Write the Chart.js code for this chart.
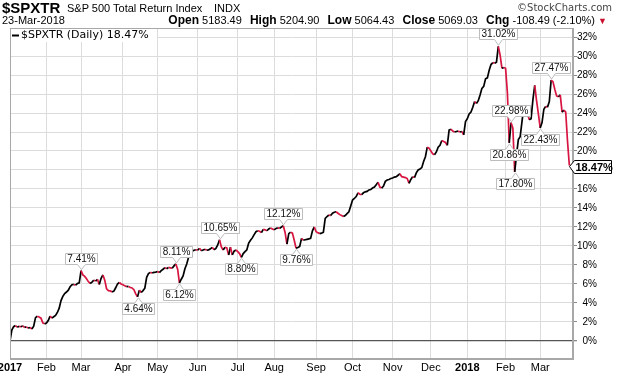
<!DOCTYPE html>
<html>
<head>
<meta charset="utf-8">
<script src="https://cdn.jsdelivr.net/npm/chart.js@4.4.0/dist/chart.umd.min.js"></script>
<style>
  body { margin: 0; background: #fff; width: 618px; height: 376px; overflow: hidden; position: relative; font-family: "Liberation Sans", Arial, sans-serif; }
  #wrap { position: absolute; left: 0; top: 0; width: 618px; height: 376px; }
  .hd { position: absolute; white-space: nowrap; color: #000; font-size: 11px; z-index: 2; }
  .hd b { font-size: 12px; margin-left: 2px; }
</style>
</head>
<body>
<div id="wrap"><canvas id="chart" width="618" height="376"></canvas></div>
<div class="hd" style="left:2px;top:-1px;font-size:15px;font-weight:bold;">$SPXTR</div>
<div class="hd" style="left:67px;top:2px;">S&amp;P 500 Total Return Index</div>
<div class="hd" style="left:214px;top:2px;">INDX</div>
<div class="hd" style="right:6px;top:2px;color:#444;font-family:'DejaVu Sans';font-size:10px;">©StockCharts.com</div>
<div class="hd" style="left:2px;top:14px;">23-Mar-2018</div>
<div class="hd" style="right:11px;top:13px;"><b>Open</b> 5183.49 &nbsp;<b>High</b> 5204.90 &nbsp;<b>Low</b> 5064.43 &nbsp;<b>Close</b> 5069.03 &nbsp;<b>Chg</b> -108.49 (-2.10%) <span style="color:#c8102e;font-size:9px;">▼</span></div>
<script>
document.addEventListener('DOMContentLoaded', () => {
    // trading day index since 3-Jan-2017, cumulative total return in %
    const days = [];
    for (let d = 0; d <= 307; d++) days.push(d);

    const values = [
        0.00, 1.15, 1.50, 1.62, 1.45, 1.55, 1.48, 1.60, 1.42, 1.48,
        1.35, 1.42, 1.26, 1.55, 2.45, 2.60, 2.52, 2.40, 1.90, 1.80,
        1.88, 2.15, 2.62, 2.40, 2.55, 2.68, 3.00, 3.45, 4.25, 4.70,
        5.00, 5.15, 5.35, 5.70, 5.92, 5.95, 5.88, 6.05, 6.12, 7.41,
        6.95, 6.80, 6.55, 6.25, 6.05, 6.20, 6.40, 6.30, 6.48, 5.95,
        6.60, 6.95, 6.40, 5.50, 5.30, 5.28, 5.15, 5.25, 5.60, 6.00,
        6.15, 6.00, 5.92, 5.80, 5.72, 5.75, 5.62, 5.58, 5.40, 4.95,
        4.64, 5.35, 5.10, 5.30, 5.55, 6.70, 7.10, 7.22, 7.15, 7.22,
        7.25, 7.32, 7.20, 7.40, 7.55, 7.72, 7.60, 7.75, 7.70, 7.65,
        7.90, 8.11, 7.55, 6.12, 6.50, 6.85, 7.60, 8.10, 8.80, 9.25,
        9.45, 9.55, 9.60, 9.55, 9.76, 9.50, 9.58, 9.65, 9.55, 9.58,
        9.70, 9.86, 9.60, 9.75, 10.10, 10.65, 9.90, 9.58, 9.86, 9.80,
        9.05, 9.86, 9.05, 9.45, 9.58, 9.40, 9.20, 8.80, 9.20, 9.40,
        9.60, 10.30, 10.60, 10.85, 11.20, 11.50, 11.60, 11.55, 11.40, 11.75,
        11.70, 11.60, 11.80, 11.90, 11.80, 11.70, 11.85, 11.90, 11.85, 12.00,
        12.12, 11.40, 10.20, 11.30, 11.45, 11.35, 10.60, 9.76, 9.85, 9.95,
        10.80, 10.60, 10.65, 10.70, 10.75, 10.80, 11.60, 12.00, 11.50, 11.40,
        11.30, 11.35, 11.45, 12.90, 13.10, 13.26, 13.20, 13.45, 13.55, 13.60,
        13.45, 13.30, 13.20, 13.10, 13.20, 13.40, 13.60, 14.20, 14.84, 15.00,
        15.20, 15.60, 15.45, 15.40, 15.60, 15.70, 15.75, 15.90, 15.95, 16.10,
        16.20, 16.45, 16.70, 16.20, 16.10, 16.30, 16.80, 16.95, 17.00, 17.10,
        17.15, 17.25, 17.30, 17.45, 17.60, 17.30, 17.25, 17.20, 17.10, 16.60,
        17.00, 17.30, 17.20, 17.70, 18.00, 18.10, 18.25, 18.90, 19.40, 20.40,
        20.30, 20.00, 19.70, 19.60, 19.90, 20.40, 20.60, 21.10, 21.00, 20.90,
        20.60, 22.20, 22.30, 22.10, 22.00, 22.05, 22.10, 22.00, 22.05, 21.70,
        23.10, 23.40, 23.90, 24.10, 24.60, 25.20, 25.00, 25.30, 25.90, 26.60,
        26.80, 27.60, 27.70, 28.50, 29.10, 29.30, 29.25, 29.35, 31.02, 30.10,
        28.70, 28.80, 28.70, 26.10, 20.86, 22.98, 22.40, 17.80, 19.60, 21.20,
        21.50, 23.10, 24.60, 24.70, 24.00, 23.30, 23.40, 25.40, 26.90, 25.30,
        23.90, 22.43, 23.00, 24.40, 24.70, 24.60, 25.20, 27.47, 27.30, 26.50,
        25.80, 25.70, 25.90, 24.10, 24.30, 24.10, 21.00, 18.47
    ];

    const monthTicks = [0, 20, 39, 62, 81, 103, 125, 145, 168, 188, 210, 231, 251, 272, 291];
    const monthLabels = ['2017', 'Feb', 'Mar', 'Apr', 'May', 'Jun', 'Jul', 'Aug', 'Sep', 'Oct', 'Nov', 'Dec', '2018', 'Feb', 'Mar'];

    const noteDays = [39, 70, 91, 93, 115, 127, 150, 157, 268, 274, 275, 277, 291, 297];
    const noteSides = ['up', 'down', 'up', 'down', 'up', 'down', 'up', 'down', 'up', 'down', 'up', 'down', 'down', 'up'];

    const RED = '#d81440';
    const lastValue = values[values.length - 1];

    const decor = {
        id: 'decor',
        afterDatasetsDraw(chart) {
            const ctx = chart.ctx;
            const meta = chart.getDatasetMeta(0);
            ctx.save();
            ctx.font = "10px 'Liberation Sans'";
            ctx.textBaseline = 'middle';
            ctx.textAlign = 'center';
            noteDays.forEach((d, k) => {
                const i = days.indexOf(d);
                const pt = meta.data[i];
                const txt = values[i].toFixed(2) + '%';
                const w = Math.round(ctx.measureText(txt).width) + 4;
                const h = 11;
                const up = noteSides[k] === 'up';
                const px = Math.round(pt.x) + 0.5;
                const x0 = Math.round(pt.x - w / 2) + 0.5;
                const edge = up ? Math.round(pt.y) - 6.5 : Math.round(pt.y) + 6.5;
                const far = up ? edge - h : edge + h;
                const tip = up ? pt.y - 1 : pt.y + 1;
                ctx.beginPath();
                ctx.moveTo(x0, far);
                ctx.lineTo(x0 + w, far);
                ctx.lineTo(x0 + w, edge);
                ctx.lineTo(px + 4, edge);
                ctx.lineTo(px, tip);
                ctx.lineTo(px - 4, edge);
                ctx.lineTo(x0, edge);
                ctx.closePath();
                ctx.fillStyle = '#fff';
                ctx.fill();
                ctx.strokeStyle = '#bdbdbd';
                ctx.lineWidth = 1;
                ctx.stroke();
                ctx.fillStyle = '#111';
                ctx.fillText(txt, x0 + w / 2, (edge + far) / 2 + 0.5);
            });

            // legend
            ctx.fillStyle = '#fff';
            ctx.fillRect(11, 29, 146, 13);
            ctx.strokeStyle = '#000';
            ctx.lineWidth = 2;
            ctx.beginPath();
            ctx.moveTo(12, 35.5);
            ctx.lineTo(19, 35.5);
            ctx.stroke();
            ctx.fillStyle = '#000';
            ctx.textAlign = 'left';
            ctx.font = "11px 'DejaVu Sans'";
            ctx.fillText('$SPXTR (Daily) ' + lastValue.toFixed(2) + '%', 21, 35.5);
            ctx.restore();
        },
        afterDraw(chart) {
            const ctx = chart.ctx;
            const a = chart.chartArea;
            ctx.save();
            ctx.strokeStyle = '#a8a8a8';
            ctx.lineWidth = 1;
            ctx.strokeRect(a.left + 0.5, a.top + 0.5, a.right - a.left - 1, a.bottom - a.top - 1);

            // last value tag
            const yv = Math.round(chart.scales.y.getPixelForValue(lastValue)) + 0.5;
            const x0 = a.right + 0.5;
            ctx.beginPath();
            ctx.moveTo(x0 - 4, yv);
            ctx.lineTo(x0 + 1, yv - 6);
            ctx.lineTo(x0 + 38, yv - 6);
            ctx.lineTo(x0 + 38, yv + 7);
            ctx.lineTo(x0 + 1, yv + 7);
            ctx.closePath();
            ctx.fillStyle = '#fff';
            ctx.fill();
            ctx.strokeStyle = '#000';
            ctx.stroke();
            ctx.fillStyle = '#000';
            ctx.font = "bold 11px 'Liberation Sans'";
            ctx.textBaseline = 'middle';
            ctx.textAlign = 'left';
            ctx.fillText(lastValue.toFixed(2) + '%', x0 + 2, yv + 1);
            ctx.restore();
        }
    };

    new Chart(document.getElementById('chart'), {
        type: 'line',
        data: {
            datasets: [{
                label: '$SPXTR',
                data: days.map((d, i) => ({ x: d, y: values[i] })),
                borderColor: '#000',
                borderWidth: 1.7,
                pointRadius: 0,
                tension: 0,
                segment: {
                    borderColor: c => c.p1.parsed.y < c.p0.parsed.y ? RED : '#000'
                }
            }]
        },
        options: {
            responsive: false,
            animation: false,
            devicePixelRatio: 1,
            layout: { padding: { left: 10, top: 28, right: 21, bottom: 0 } },
            plugins: { legend: { display: false }, tooltip: { enabled: false } },
            scales: {
                x: {
                    type: 'linear',
                    min: 0,
                    max: 309,
                    afterBuildTicks: s => { s.ticks = monthTicks.map(v => ({ value: v })); },
                    afterFit: s => { s.height = 17; s.paddingLeft = 0; s.paddingRight = 0; },
                    ticks: {
                        autoSkip: false,
                        maxRotation: 0,
                        padding: 2,
                        color: '#000',
                        callback: (v, i) => monthLabels[i],
                        font: c => ({
                            family: "'Liberation Sans'",
                            size: 11,
                            weight: /^\d+$/.test(monthLabels[c.index] || '') ? 'bold' : 'normal'
                        })
                    },
                    grid: { color: '#dcdcdc', drawTicks: false },
                    border: { color: '#a8a8a8' }
                },
                y: {
                    position: 'right',
                    min: -1.9,
                    max: 32.95,
                    afterFit: s => { s.width = 24; s.paddingTop = 0; s.paddingBottom = 0; },
                    ticks: {
                        stepSize: 2,
                        includeBounds: false,
                        crossAlign: 'far',
                        padding: 1,
                        color: '#000',
                        font: { family: "'Liberation Sans'", size: 10 },
                        callback: v => v + '%'
                    },
                    grid: {
                        tickLength: 4,
                        tickColor: '#888',
                        color: c => (c.tick && c.tick.value === 0) ? '#555' : '#dcdcdc',
                        lineWidth: c => (c.tick && c.tick.value === 0) ? 1.3 : 1
                    },
                    border: { color: '#a8a8a8' }
                }
            }
        },
        plugins: [decor]
    });
});
</script>
</body>
</html>
